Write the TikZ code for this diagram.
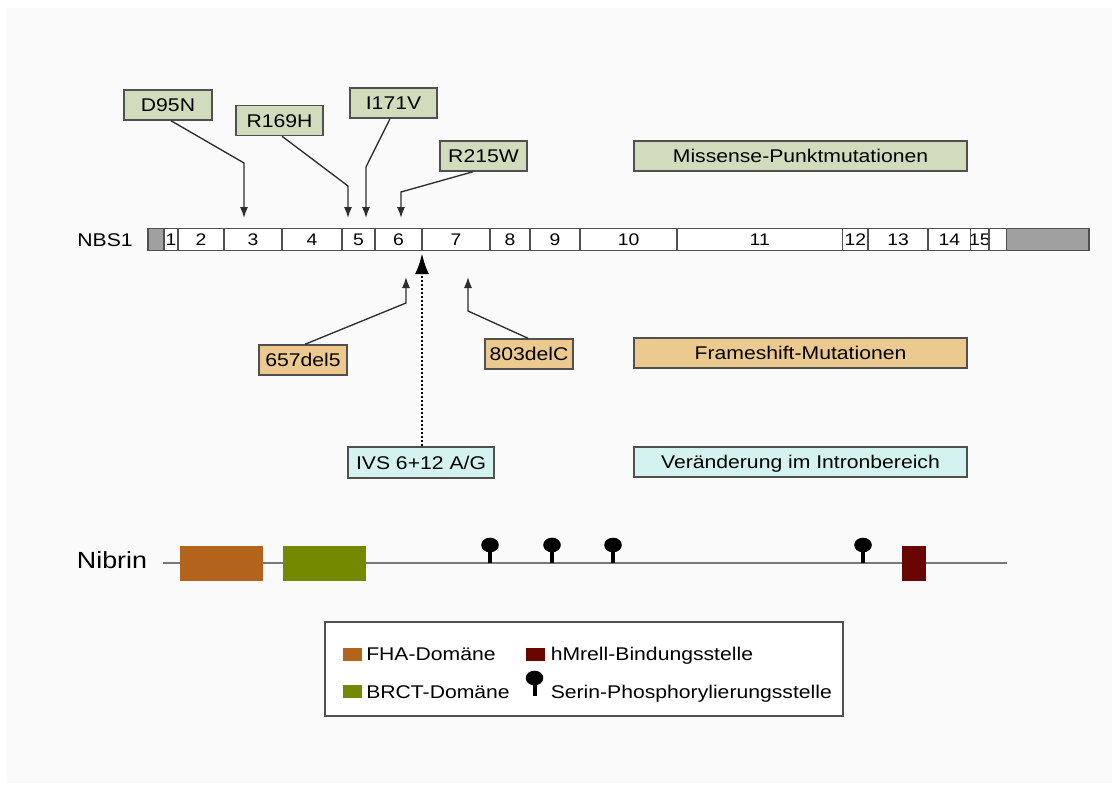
\documentclass[tikz,border=0pt]{standalone}
\usepackage{fontspec}
\setmainfont{Liberation Sans}[FakeStretch=1.15]
\usetikzlibrary{arrows.meta,calc}

\definecolor{pagebg}{RGB}{250,250,250}
\definecolor{boxline}{RGB}{80,80,80}
\definecolor{connline}{RGB}{45,45,45}
\definecolor{missfill}{RGB}{208,220,188}
\definecolor{framefill}{RGB}{236,201,143}
\definecolor{intronfill}{RGB}{212,242,240}
\definecolor{utrfill}{RGB}{160,160,160}
\definecolor{fhacol}{RGB}{179,99,27}
\definecolor{brctcol}{RGB}{117,137,0}
\definecolor{mrecol}{RGB}{103,7,0}
\definecolor{protline}{RGB}{120,120,120}

\newcommand\lblfont{\fontsize{13.8pt}{16pt}\selectfont}
\newcommand\numfont{\fontsize{12.6pt}{14pt}\selectfont}
\newcommand\bigfont{\fontsize{17.5pt}{20pt}\selectfont}

% one exon (or UTR) block of the gene bar: name, left x, right x, fill, label
\newcommand\exonbox[5]{%
  \pgfmathsetmacro\exw{(#3-#2)*0.75}%
  \node[exon, fill=#4, minimum width=\exw pt] (#1) at ({(#2+#3)/2},239.5) {\makebox[0pt]{#5}};}

\begin{document}
\begin{tikzpicture}[x=0.75pt,y=-0.75pt,
  mutbox/.style={draw=boxline, line width=1.1pt, inner sep=0pt,
    minimum height=22.5pt, font=\lblfont, text height=9.9pt, text depth=0pt},
  exon/.style={draw=boxline, line width=0.8pt, inner sep=0pt,
    minimum height=16.5pt, font=\numfont, text height=9pt, text depth=0pt},
  conn/.style={draw=connline, line width=1pt, -{Latex[length=8.25pt,width=6pt]}},
  dombox/.style={draw=none, inner sep=0pt, minimum height=26.25pt},
  legtext/.style={anchor=base west, inner sep=0pt, font=\lblfont},
  legsq/.style={inner sep=0pt, minimum width=14.25pt, minimum height=9.75pt},
  serpin/.pic={
    \fill[black] (0,0) ellipse [x radius=8.8, y radius=7.3];
    \fill[black] (-2,4) rectangle (2,18);
  }]

% page
\fill[white] (0,0) rectangle (1120,792);
\fill[pagebg] (7,8) rectangle (1112,783);
\useasboundingbox (0,0) rectangle (1120,792);

% ---------- gene NBS1 ----------
\node[font=\lblfont, inner sep=0pt, text height=9.9pt, text depth=0pt] (nbs) at (105,239.5) {NBS1};
\exonbox{utr5}{148}{164}{utrfill}{}
\exonbox{e1}{164}{178}{white}{1}
\exonbox{e2}{178}{224}{white}{2}
\exonbox{e3}{224}{282}{white}{3}
\exonbox{e4}{282}{342}{white}{4}
\exonbox{e5}{342}{375}{white}{5}
\exonbox{e6}{375}{422}{white}{6}
\exonbox{e7}{422}{490}{white}{7}
\exonbox{e8}{490}{530}{white}{8}
\exonbox{e9}{530}{580}{white}{9}
\exonbox{e10}{580}{677}{white}{10}
\exonbox{e11}{677}{842.5}{white}{11}
\exonbox{e12}{842.5}{868}{white}{12}
\exonbox{e13}{868}{928}{white}{13}
\exonbox{e14}{928}{970.5}{white}{14}
\exonbox{e15}{970.5}{989}{white}{15}
\exonbox{gap}{989}{1006.5}{white}{}
\exonbox{utr3}{1006.5}{1089}{utrfill}{}

% ---------- missense point mutations ----------
\node[mutbox, fill=missfill, minimum width=66pt]    (d95n)  at (168,105)   {D95N};
\node[mutbox, fill=missfill, minimum width=65.25pt] (r169h) at (279.5,120.5) {R169H};
\node[mutbox, fill=missfill, minimum width=65.25pt] (i171v) at (393.5,103) {I171V};
\node[mutbox, fill=missfill, minimum width=65.25pt] (r215w) at (483.5,156) {R215W};
\node[mutbox, fill=missfill, minimum width=249.75pt] (missense) at (800.5,156) {Missense-Punktmutationen};

\coordinate (tD95N)  at (244,218);
\coordinate (tR169H) at (348,218);
\coordinate (tI171V) at (366,218);
\coordinate (tR215W) at (401,218);

\draw[conn] ($(d95n.south)+(3,0)$)   -- (244,163) -- (tD95N);
\draw[conn] ($(r169h.south)+(2.5,0)$) -- (348,186) -- (tR169H);
\draw[conn] ($(i171v.south)+(-3.5,0)$) -- (366,167) -- (tI171V);
\draw[conn] ($(r215w.south)+(-10.5,0)$) -- (401,192) -- (tR215W);

% ---------- frameshift mutations ----------
\node[mutbox, fill=framefill, minimum width=66pt] (del5) at (303,360) {657del5};
\node[mutbox, fill=framefill, minimum width=66pt] (delc) at (529,354) {803delC};
\node[mutbox, fill=framefill, minimum width=249.75pt] (frameshift) at (800.5,353) {Frameshift-Mutationen};

\coordinate (tDel5) at (406,277);
\coordinate (tDelC) at (468,277);

\draw[conn] ($(del5.north)+(2,0)$) -- (406,303) -- (tDel5);
\draw[conn] ($(delc.north)+(-1,0)$) -- (468,311) -- (tDelC);

% ---------- intron variant ----------
\node[mutbox, fill=intronfill, minimum width=109.5pt, minimum height=23.25pt] (ivs) at (421,462.5) {IVS 6+12 A/G};
\node[mutbox, fill=intronfill, minimum width=249.75pt] (intron) at (800.5,462) {Veränderung im Intronbereich};

\coordinate (tIVS) at (422,253);
\draw[draw=black, line width=2.2pt, dash pattern=on 1.5pt off 1.5pt,
      -{Latex[length=15.75pt,width=10.5pt]}] (ivs.north -| tIVS) -- (tIVS);

% ---------- protein Nibrin ----------
\node[font=\bigfont, inner sep=0pt, text height=12.5pt, text depth=0pt] (nibrin) at (112,560) {Nibrin};
\coordinate (pstart) at (163,563);
\coordinate (pend) at (1007,563);
\draw[protline, line width=1.5pt] (pstart) -- (pend);

\node[dombox, fill=fhacol,  minimum width=62.25pt] (fha)  at (221.5,563.5) {};
\node[dombox, fill=brctcol, minimum width=62.25pt] (brct) at (324.5,563.5) {};
\node[dombox, fill=mrecol,  minimum width=18pt]    (mre)  at (914,563.5) {};

\foreach \px in {490,552,613,863}
  \pic at (\px,545) {serpin};

% ---------- legend ----------
\node[draw=boxline, line width=1.1pt, fill=white, minimum width=388.5pt, minimum height=70.5pt] (legend) at (584,669) {};

\node[legsq, fill=fhacol]  (sqfha)  at (352.5,654) {};
\node[legtext] (txfha) at (366,660.5) {FHA-Domäne};
\node[legsq, fill=brctcol] (sqbrct) at (352.5,691) {};
\node[legtext] (txbrct) at (366,698) {BRCT-Domäne};
\node[legsq, fill=mrecol]  (sqmre)  at (535.5,654) {};
\node[legtext] (txmre) at (550.5,660.5) {hMrell-Bindungsstelle};
\pic at (534.5,678) {serpin};
\node[legtext] (txpin) at (550.5,698) {Serin-Phosphorylierungsstelle};

\end{tikzpicture}
\end{document}
